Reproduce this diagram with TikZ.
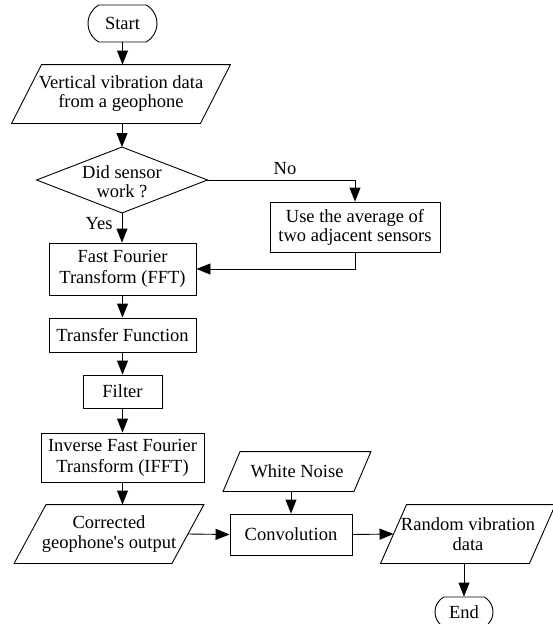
\documentclass[tikz,border=0pt]{standalone}
\usepackage{fontspec}
\setmainfont{Liberation Serif}
\usetikzlibrary{arrows.meta,shapes.misc,calc}
\newcommand\parallelo[2]{\draw ([xshift=-#2]#1.south west) -- ([xshift=#2]#1.north west) -- ([xshift=#2]#1.north east) -- ([xshift=-#2]#1.south east) -- cycle;}
\begin{document}
\begin{tikzpicture}[x=1pt,y=-1pt, line width=0.9pt,
  every node/.style={font=\fontsize{18.5}{20}\selectfont, align=center, inner sep=0pt},
  box/.style={draw, rectangle},
  term/.style={draw, rounded rectangle, rounded rectangle arc length=120},
  plain/.style={rectangle},
  arr/.style={-{Triangle[length=14pt,width=11pt]}},
]
\useasboundingbox (0,0) rectangle (553,624);

\node[term, minimum width=69pt, minimum height=37pt] (start) at (122.5,23.5) {Start};
\node[plain, minimum width=188pt, minimum height=58pt, font=\fontsize{18.5}{19}\selectfont] (vib) at (121,94) {Vertical vibration data\\from a geophone};
\parallelo{vib}{15pt}

\node[plain, minimum width=170pt, minimum height=65pt] (dec) at (122,180) {};
\draw (dec.north) -- (dec.east) -- (dec.south) -- (dec.west) -- cycle;
\node[font=\fontsize{18.5}{19}\selectfont] (dect) at (122,182) {Did sensor\\work ?};

\node[box, minimum width=170pt, minimum height=50pt, font=\fontsize{18.5}{19}\selectfont] (use) at (355,227) {Use the average of\\two adjacent sensors};
\node[box, minimum width=147pt, minimum height=52pt, font=\fontsize{18.5}{21}\selectfont] (fft) at (122.5,269) {Fast Fourier\\Transform (FFT)};
\node[box, minimum width=147pt, minimum height=34pt] (tf) at (122.5,335) {Transfer Function};
\node[box, minimum width=79pt, minimum height=33pt] (filt) at (122.5,391.5) {Filter};
\node[box, minimum width=163pt, minimum height=49pt, font=\fontsize{18.5}{21}\selectfont] (ifft) at (122.5,457.5) {Inverse Fast Fourier\\Transform (IFFT)};

\node[plain, minimum width=157pt, minimum height=58pt] (corr) at (109,534) {Corrected\\geophone\textquotesingle s output};
\parallelo{corr}{16pt}
\node[box, minimum width=122pt, minimum height=41pt] (conv) at (291,534.5) {Convolution};
\node[plain, minimum width=130pt, minimum height=39pt] (wn) at (297,471.5) {White Noise};
\parallelo{wn}{8.5pt}
\node[plain, minimum width=148pt, minimum height=58pt] (rvd) at (468,534) {Random vibration\\data};
\parallelo{rvd}{13pt}
\node[term, minimum width=58pt, minimum height=30pt] (end) at (464,612) {End};

\node (no) at (285,169) {No};
\node (yes) at (99,224) {Yes};

\draw[arr] (start.south) -- (start.south |- vib.north);
\draw[arr] (vib.south -| dec.north) -- (dec.north);
\draw[arr] (dec.east) -| (use.north);
\draw[arr] (dec.south) -- (dec.south |- fft.north);
\draw[arr] (use.south) |- (fft.east);
\draw[arr] (fft.south) -- (tf.north);
\draw[arr] (tf.south) -- (filt.north);
\draw[arr] (filt.south) -- (ifft.north);
\draw[arr] (ifft.south) -- (ifft.south |- corr.north);
\draw[arr] (corr.east) -- (conv.west);
\draw[arr] (conv.north |- wn.south) -- (conv.north);
\draw[arr] (conv.east) -- (rvd.west);
\draw[arr] (end.north |- rvd.south) -- (end.north);
\end{tikzpicture}
\end{document}
